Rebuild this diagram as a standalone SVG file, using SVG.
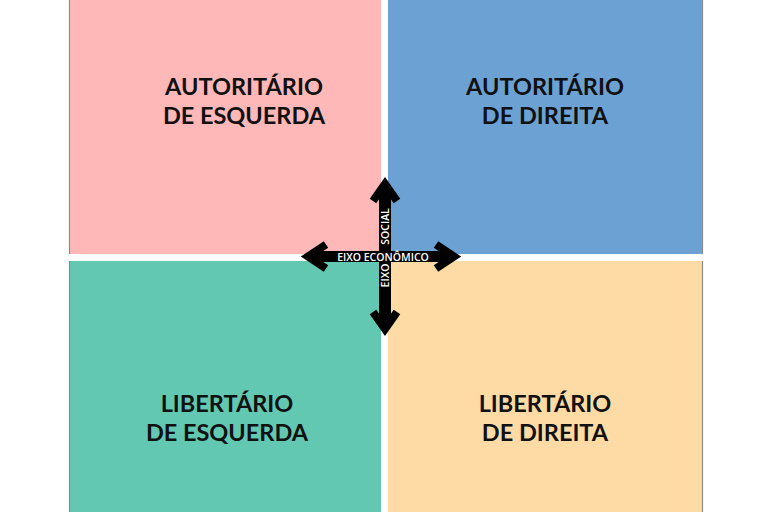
<svg xmlns="http://www.w3.org/2000/svg" width="768" height="512" viewBox="0 0 768 512">
<style>
.lbl{font-family:Lato,"Open Sans",sans-serif;font-weight:bold;font-size:23.5px;fill:#111;text-anchor:middle}
.ax{font-family:"Open Sans",Lato,sans-serif;font-weight:600;font-size:10.5px;fill:#fff;text-anchor:middle}
.edge{stroke:#8a8a8a;stroke-width:1.2}
.head{stroke-width:8;stroke-linejoin:miter;stroke-linecap:butt}
</style>
<rect width="768" height="512" fill="#fff"/>
<g id="q-auth-left">
<rect x="69" y="0" width="312" height="254" fill="#FFB8B8"/>
<line class="edge" x1="69.5" y1="0" x2="69.5" y2="254"/>
<text class="lbl" x="244" y="95">AUTORITÁRIO</text>
<text class="lbl" x="244" y="124">DE ESQUERDA</text>
</g>
<g id="q-auth-right">
<rect x="388" y="0" width="315" height="254" fill="#6CA1D4"/>
<line class="edge" x1="702.5" y1="0" x2="702.5" y2="254"/>
<text class="lbl" x="545" y="95">AUTORITÁRIO</text>
<text class="lbl" x="545" y="124">DE DIREITA</text>
</g>
<g id="q-lib-left">
<rect x="69" y="261" width="312" height="251" fill="#62C8B2"/>
<line class="edge" x1="69.5" y1="261" x2="69.5" y2="512"/>
<text class="lbl" x="227" y="412">LIBERTÁRIO</text>
<text class="lbl" x="227" y="441">DE ESQUERDA</text>
</g>
<g id="q-lib-right">
<rect x="388" y="261" width="315" height="251" fill="#FEDBA4"/>
<line class="edge" x1="702.5" y1="261" x2="702.5" y2="512"/>
<text class="lbl" x="545" y="412">LIBERTÁRIO</text>
<text class="lbl" x="545" y="441">DE DIREITA</text>
</g>
<g id="axes" fill="none" stroke="#000">
<line x1="385" y1="186" x2="385" y2="327" stroke-width="12"/>
<line x1="310" y1="256.5" x2="452" y2="256.5" stroke-width="11"/>
<polyline class="head" points="373,201 385,184 397,201"/>
<polyline class="head" points="373,312 385,329 397,312"/>
<polyline class="head" points="326,244.5 308,256.5 326,268.5"/>
<polyline class="head" points="436,244.5 454,256.5 436,268.5"/>
</g>
<g id="axis-labels">
<text class="ax" x="383" y="260.5">EIXO ECONÔMICO</text>
<text class="ax" transform="translate(389,226.5) rotate(-90)">SOCIAL</text>
<text class="ax" transform="translate(389,275.5) rotate(-90)">EIXO</text>
</g>
</svg>
